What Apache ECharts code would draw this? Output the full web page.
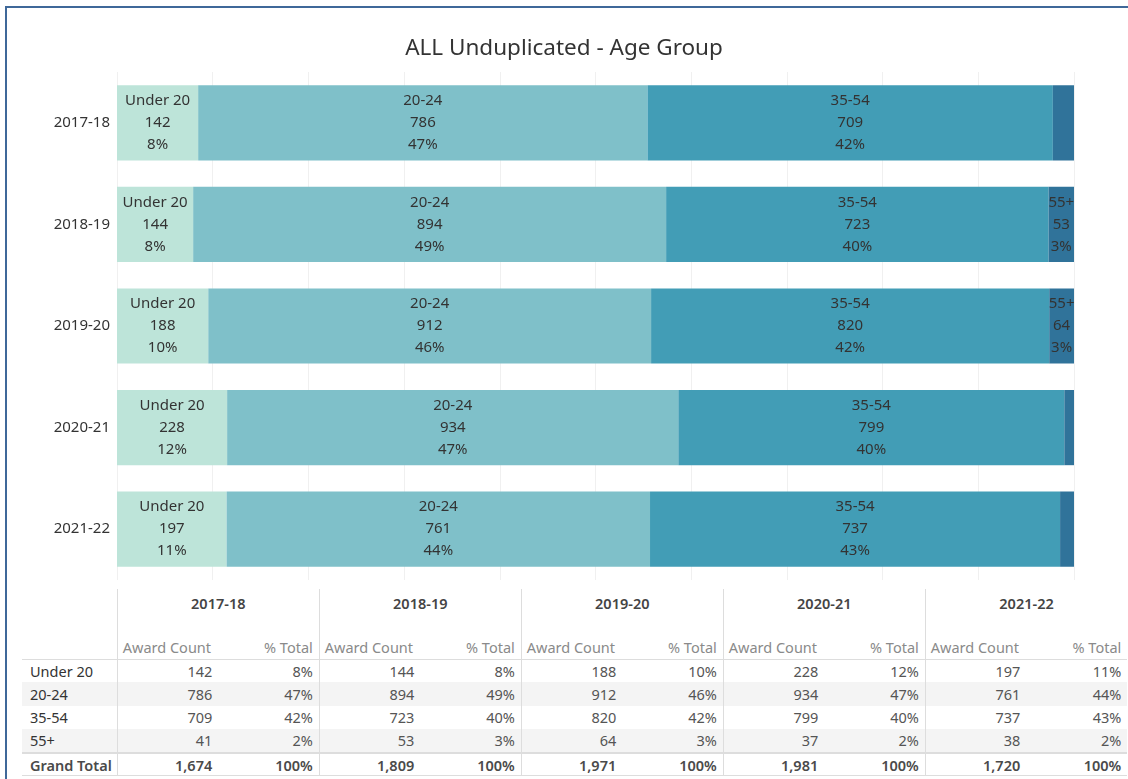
<!DOCTYPE html>
<html>
<head>
<meta charset="utf-8">
<script src="https://cdn.jsdelivr.net/npm/echarts@6/dist/echarts.min.js"></script>
<style>
    * { box-sizing: border-box; }
    body { margin: 0; background: #fff; font-family: 'Noto Sans', sans-serif; }
    #frame { position: absolute; left: 5px; top: 6px; width: 1123px; height: 773px; border-top: 2px solid #3f6899; border-left: 2px solid #3f6899; }
    #chart { position: absolute; left: 0; top: 0; width: 1128px; height: 586px; }
    #tbl { position: absolute; left: 22px; top: 589px; border-collapse: collapse; font-size: 14.5px; color: #555; }
    #tbl td { padding: 0 5px; height: 23.4px; white-space: nowrap; }
    #tbl .yr { height: 40px; text-align: center; color: #444; font-weight: 600; vertical-align: top; padding-top: 4px; border-left: 1px solid #ddd; }
    #tbl .sub { height: 30px; color: #8a8a8a; vertical-align: bottom; padding-bottom: 2px; border-bottom: 1px solid #ddd; }
    #tbl .num { text-align: right; padding-right: 6px; }
    #tbl .gl { border-left: 1px solid #ddd; }
    #tbl .rh { color: #333; padding-left: 8px; width: 95px; }
    #tbl tr.alt td { background: #f4f4f4; }
    #tbl tr.tot td { border-top: 2px solid #ddd; border-bottom: 1px solid #ddd; font-weight: 600; color: #4a4a4a; }
</style>
</head>
<body>
<div id="frame"></div>
<div id="chart"></div>
<table id="tbl"></table>
<script>
// years (rows of the bar chart, column groups of the table)
const years = ['2017-18', '2018-19', '2019-20', '2020-21', '2021-22']
const ageGroups = ['Under 20', '20-24', '35-54', '55+']
// award counts per age group, one per year
const under20 = [142, 144, 188, 228, 197]
const age20to24 = [786, 894, 912, 934, 761]
const age35to54 = [709, 723, 820, 799, 737]
const age55plus = [41, 53, 64, 37, 38]
const grandTotal = [1674, 1809, 1971, 1981, 1720]

const counts = [under20, age20to24, age35to54, age55plus]
const colors = ['#bde4d9', '#7fc0c9', '#429db6', '#30739a']

function pct(v, i) {
    return v / grandTotal[i] * 100
}

let series = ageGroups.map((name, g) => {
    return {
        name: name,
        type: 'bar',
        stack: 'all',
        barCategoryGap: '26%',
        itemStyle: { color: colors[g] },
        label: {
            show: true,
            position: 'inside',
            color: '#333',
            fontSize: 15,
            lineHeight: 22,
            fontFamily: 'Noto Sans',
            formatter: p => name + '\n' + p.data.count + '\n' + Math.round(p.value) + '%'
        },
        data: counts[g].map((v, i) => {
            let item = { value: pct(v, i), count: v }
            if (pct(v, i) < 2.5) item.label = { show: false }
            return item
        })
    }
})

let myChart = echarts.init(document.getElementById('chart'))
let option = {
    animation: false,
    textStyle: { fontFamily: 'Noto Sans' },
    title: {
        text: 'ALL Unduplicated - Age Group',
        left: 'center',
        top: 32,
        textStyle: { fontSize: 22.5, fontWeight: 'normal', color: '#333', fontFamily: 'Noto Sans' }
    },
    grid: { left: 117, right: 54, top: 72, bottom: 6 },
    xAxis: {
        type: 'value',
        min: 0,
        max: 100,
        interval: 10,
        axisLabel: { show: false },
        axisLine: { show: false },
        axisTick: { show: false },
        splitLine: { lineStyle: { color: '#f0f0f0' } }
    },
    yAxis: {
        type: 'category',
        inverse: true,
        data: years,
        axisLine: { show: false },
        axisTick: { show: false },
        axisLabel: { fontSize: 15, color: '#333', margin: 7 }
    },
    series: series
}
option && myChart.setOption(option)

// table under the chart
let html = '<tr><td class="rh"></td>'
years.forEach(y => { html += '<td class="yr" colspan="2">' + y + '</td>' })
html += '</tr><tr><td class="rh" style="border-bottom:1px solid #ddd"></td>'
years.forEach(() => {
    html += '<td class="sub gl" style="width:101px">Award Count</td><td class="sub num" style="width:101px">% Total</td>'
})
html += '</tr>'
ageGroups.forEach((name, g) => {
    html += '<tr' + (g % 2 ? ' class="alt"' : '') + '><td class="rh">' + name + '</td>'
    years.forEach((y, i) => {
        html += '<td class="num gl">' + counts[g][i] + '</td><td class="num">' + Math.round(pct(counts[g][i], i)) + '%</td>'
    })
    html += '</tr>'
})
html += '<tr class="tot"><td class="rh">Grand Total</td>'
years.forEach((y, i) => {
    html += '<td class="num gl">' + grandTotal[i].toLocaleString('en-US') + '</td><td class="num">100%</td>'
})
html += '</tr>'
document.getElementById('tbl').innerHTML = html
</script>
</body>
</html>
